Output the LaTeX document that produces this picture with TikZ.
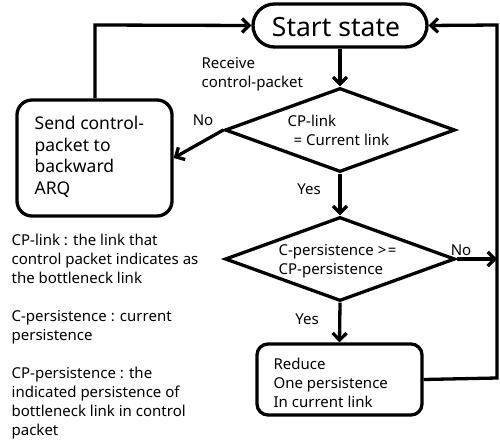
\documentclass[tikz,border=0pt]{standalone}
\usepackage{fontspec}
\setmainfont{Noto Sans}
\usetikzlibrary{shapes.geometric,shapes.misc,arrows.meta}
\begin{document}
\begin{tikzpicture}[x=1pt,y=-1pt,
  line width=3.3pt,
  arr/.style={-{Straight Barb[length=7pt,width=14pt,line width=3.3pt]}},
  lbl/.style={inner sep=0pt,font=\fontsize{15}{19}\selectfont,align=left},
  big/.style={inner sep=0pt,font=\fontsize{17.5}{21.5}\selectfont,align=left},
  dia/.style={draw,diamond,inner sep=0pt,minimum width=230pt,minimum height=84pt},
  rbox/.style={draw,rounded corners=#1,inner sep=0pt}]
\useasboundingbox (0,0) rectangle (500,441);
\node[draw,rounded rectangle,minimum width=174pt,minimum height=43pt,inner sep=0pt] (start) at (340,25.5) {};
\node[inner sep=0pt,font=\fontsize{26.5}{30}\selectfont] (starttxt) at (336,27) {Start state};
\node[dia] (d1) at (340,130) {};
\node[dia] (d2) at (340,259) {};
\node[rbox=15pt,minimum width=155pt,minimum height=116pt] (b1) at (94.5,158) {};
\node[rbox=11pt,minimum width=165pt,minimum height=71pt] (b2) at (339.5,379.5) {};
\node[lbl,anchor=west] (d1t) at (286,130.5) {CP-link\\\hspace{0.4em}= Current link};
\node[lbl,anchor=west] (d2t) at (277,261.5) {C-persistence >\hspace{0.1em}=\\CP-persistence};
\node[big,anchor=west] (b1t) at (33,157) {Send control-\\packet to\\backward\\ARQ};
\node[lbl,anchor=west] (b2t) at (272,383) {Reduce\\One persistence\\In current link};
\node[lbl,anchor=west] (rcv) at (200,74.5) {Receive\\control-packet};
\node[lbl] (no1) at (203,120) {No};
\node[lbl] (yes1) at (309,189) {Yes};
\node[lbl] (no2) at (461,250) {No};
\node[lbl] (yes2) at (307,319) {Yes};
\node[lbl,anchor=west] (n1) at (10,259) {CP-link : the link that\\control packet indicates as\\the bottleneck link};
\node[lbl,anchor=west] (n2) at (10,327) {C-persistence : current\\persistence};
\node[lbl,anchor=west] (n3) at (10,403) {CP-persistence : the\\indicated persistence of\\bottleneck link in control\\packet};
\coordinate (tl) at (95,25);
\coordinate (tr) at (497,25);
\coordinate (br) at (497,378);
\coordinate (mr) at (497,259);
\draw[arr] (start.south) -- (d1.north);
\draw[arr] (d1.west) -- (b1.east);
\draw[arr] (d1.south) -- (d2.north);
\draw[arr] (d2.south) -- (b2.north);
\draw[arr] (d2.east) -- (mr);
\draw[arr] (b1.north -| tl) -- (tl) -- (start.west);
\draw[arr] (b2.east) -- (br) -- (tr) -- (start.east);
\end{tikzpicture}
\end{document}
